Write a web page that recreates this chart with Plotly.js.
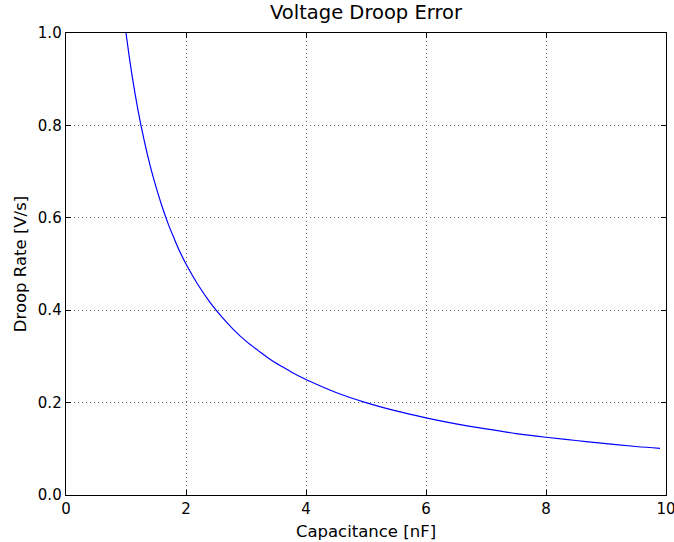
<!DOCTYPE html>
<html>
<head>
<meta charset="utf-8">
<script src="https://cdn.plot.ly/plotly-3.0.1.min.js"></script>
<style>html,body{margin:0;padding:0;background:#fff;}#chart{width:674px;height:542px;}</style>
</head>
<body>
<div id="chart"></div>
<script>
const capacitance = [0.9, 1.0, 1.1, 1.2, 1.3, 1.4, 1.5, 1.6, 1.7, 1.8, 1.9, 2.0, 2.2, 2.4, 2.6, 2.8, 3.0, 3.2, 3.4, 3.6, 3.8, 4.0, 4.5, 5.0, 5.5, 6.0, 6.5, 7.0, 7.5, 8.0, 8.5, 9.0, 9.5, 9.9];
const droopRate = [1.111, 1.000, 0.909, 0.833, 0.769, 0.714, 0.667, 0.625, 0.588, 0.556, 0.526, 0.500, 0.455, 0.417, 0.385, 0.357, 0.333, 0.313, 0.294, 0.278, 0.263, 0.250, 0.222, 0.200, 0.182, 0.167, 0.154, 0.143, 0.133, 0.125, 0.118, 0.111, 0.105, 0.101];
const xTicks = [0, 2, 4, 6, 8, 10];
const yTicks = [0.0, 0.2, 0.4, 0.6, 0.8, 1.0];
const yTickText = ["0.0", "0.2", "0.4", "0.6", "0.8", "1.0"];

const axisCommon = {
  showline: true, linecolor: "#000", linewidth: 1.3, mirror: "allticks",
  ticks: "inside", ticklen: 5, tickwidth: 1, tickcolor: "#000",
  showgrid: true, gridcolor: "#666", griddash: "1px,3px", gridwidth: 1,
  zeroline: false, ticklabeloverflow: "allow",
  tickfont: {family: "DejaVu Sans", size: 15, color: "#000"}
};

Plotly.newPlot("chart", [{
  x: capacitance, y: droopRate, type: "scatter", mode: "lines",
  line: {color: "#0000ff", width: 1.2, shape: "spline"}, cliponaxis: true
}], {
  width: 674, height: 542,
  margin: {l: 66, r: 8, t: 33, b: 47},
  paper_bgcolor: "#fff", plot_bgcolor: "#fff",
  showlegend: false,
  title: {text: "Voltage Droop Error", font: {family: "DejaVu Sans", size: 19.5, color: "#000"}, xref: "paper", x: 0.5, xanchor: "center", y: 0.99, yanchor: "top"},
  xaxis: Object.assign({}, axisCommon, {
    range: [0, 10], tickvals: xTicks, ticktext: xTicks.map(String),
    title: {text: "Capacitance [nF]", font: {family: "DejaVu Sans", size: 16.5, color: "#000"}, standoff: 8}
  }),
  yaxis: Object.assign({}, axisCommon, {
    range: [0, 1], tickvals: yTicks, ticktext: yTickText,
    title: {text: "Droop Rate [V/s]", font: {family: "DejaVu Sans", size: 16.5, color: "#000"}, standoff: 7}
  })
}, {displayModeBar: false, staticPlot: true});
</script>
</body>
</html>
